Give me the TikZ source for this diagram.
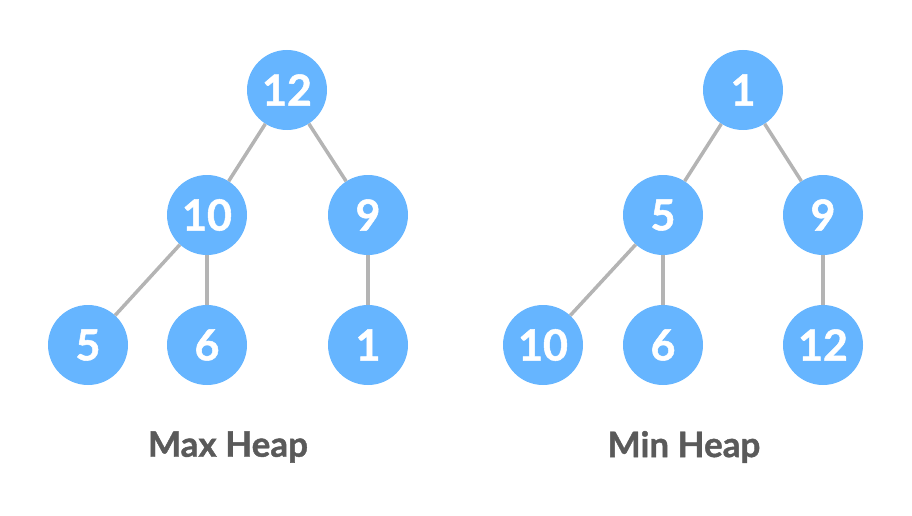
\documentclass[tikz,border=0pt]{standalone}
\usepackage{fontspec}
\setmainfont{Lato}
\newfontfamily\heavyfont{Lato}[UprightFont=*-Bold,FakeBold=1.2]
\definecolor{nodeblue}{RGB}{102,181,255}
\definecolor{edgegray}{RGB}{180,180,180}
\definecolor{labelgray}{RGB}{90,90,90}
\begin{document}
\begin{tikzpicture}[x=1pt,y=-1pt,
  hnode/.style={circle,fill=nodeblue,minimum size=80pt,inner sep=0pt,text=white,font=\heavyfont\fontsize{43}{43}\selectfont},
  hedge/.style={draw=edgegray,line width=3.5pt},
  hlabel/.style={text=labelgray,font=\heavyfont\fontsize{35}{35}\selectfont}]
\useasboundingbox (0,0) rectangle (912,516);
% Max heap
\node[hnode] (a12) at (287,90) {12};
\node[hnode] (a10) at (207,215) {10};
\node[hnode] (a9) at (368,215) {9};
\node[hnode] (a5) at (88,345) {5};
\node[hnode] (a6) at (207,345) {6};
\node[hnode] (a1) at (368,345) {1};
% Min heap
\node[hnode] (b1) at (743,90) {1};
\node[hnode] (b5) at (663,215) {5};
\node[hnode] (b9) at (823,215) {9};
\node[hnode] (b10) at (543,345) {10};
\node[hnode] (b6) at (663,345) {6};
\node[hnode] (b12) at (823,345) {12};
\draw[hedge] (a12) -- (a10);
\draw[hedge] (a12) -- (a9);
\draw[hedge] (a10) -- (a5);
\draw[hedge] (a10) -- (a6);
\draw[hedge] (a9) -- (a1);
\draw[hedge] (b1) -- (b5);
\draw[hedge] (b1) -- (b9);
\draw[hedge] (b5) -- (b10);
\draw[hedge] (b5) -- (b6);
\draw[hedge] (b9) -- (b12);
\node[hlabel] (lmax) at (228,447) {Max Heap};
\node[hlabel] (lmin) at (684,447) {Min Heap};
\end{tikzpicture}
\end{document}
